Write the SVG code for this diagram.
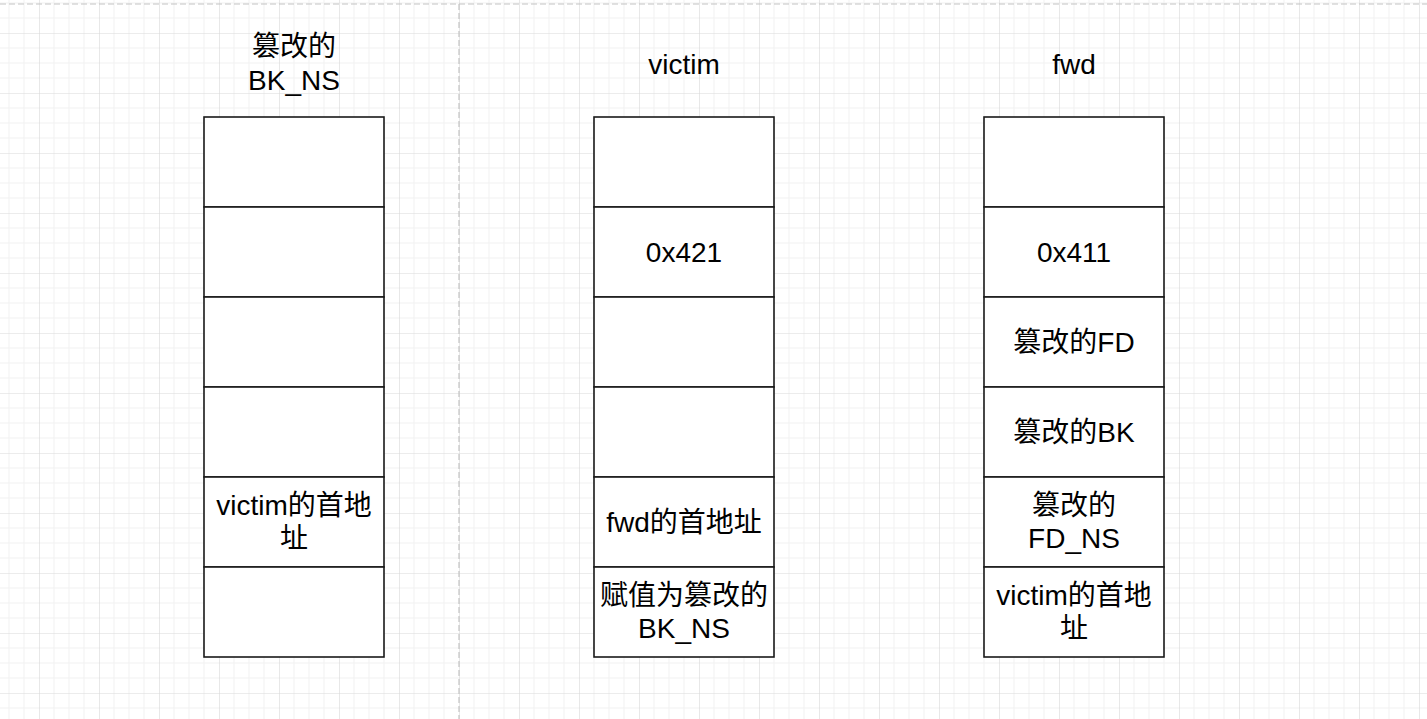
<svg xmlns="http://www.w3.org/2000/svg" width="1427" height="719" viewBox="0 0 1427 719">
<style>
  .cell { fill: #ffffff; stroke: #1a1a1a; stroke-width: 1.6; }
  .t { font-family: "Liberation Sans", Arial, "Noto Sans CJK SC", sans-serif; font-size: 28px; fill: #000000; text-anchor: middle; }
  .guide { stroke: #c4c4c4; stroke-width: 1.2; stroke-dasharray: 6 3; fill: none; }
</style>
<defs>
  <pattern id="grid" patternUnits="userSpaceOnUse" x="39" y="33" width="60" height="60">
    <path d="M15 0V60M30 0V60M45 0V60M0 15H60M0 30H60M0 45H60" stroke="#f1f1f1" stroke-width="1" fill="none"/>
    <path d="M0 0V60M0 0H60" stroke="#d9d9d9" stroke-width="1.2" fill="none"/>
  </pattern>
</defs>
<rect x="0" y="0" width="1427" height="719" fill="#ffffff"/>
<rect x="0" y="0" width="1427" height="719" fill="url(#grid)"/>
<g id="guides">
  <line class="guide" x1="0" y1="4" x2="1427" y2="4"/>
  <line class="guide" x1="459" y1="4" x2="459" y2="719"/>
</g>

<g id="label-bkns">
  <text class="t" x="294" y="56">篡改的</text>
  <text class="t" x="294" y="90">BK_NS</text>
</g>
<g id="label-victim">
  <text class="t" x="684" y="74">victim</text>
</g>
<g id="label-fwd">
  <text class="t" x="1074" y="74">fwd</text>
</g>

<g id="bkns-chunk">
  <rect class="cell" x="204" y="117" width="180" height="90"/>
  <rect class="cell" x="204" y="207" width="180" height="90"/>
  <rect class="cell" x="204" y="297" width="180" height="90"/>
  <rect class="cell" x="204" y="387" width="180" height="90"/>
  <rect class="cell" x="204" y="477" width="180" height="90"/>
  <text class="t" x="294" y="515">victim的首地</text>
  <text class="t" x="294" y="548">址</text>
  <rect class="cell" x="204" y="567" width="180" height="90"/>
</g>

<g id="victim-chunk">
  <rect class="cell" x="594" y="117" width="180" height="90"/>
  <rect class="cell" x="594" y="207" width="180" height="90"/>
  <text class="t" x="684" y="262">0x421</text>
  <rect class="cell" x="594" y="297" width="180" height="90"/>
  <rect class="cell" x="594" y="387" width="180" height="90"/>
  <rect class="cell" x="594" y="477" width="180" height="90"/>
  <text class="t" x="684" y="532">fwd的首地址</text>
  <rect class="cell" x="594" y="567" width="180" height="90"/>
  <text class="t" x="684" y="605">赋值为篡改的</text>
  <text class="t" x="684" y="638">BK_NS</text>
</g>

<g id="fwd-chunk">
  <rect class="cell" x="984" y="117" width="180" height="90"/>
  <rect class="cell" x="984" y="207" width="180" height="90"/>
  <text class="t" x="1074" y="262">0x411</text>
  <rect class="cell" x="984" y="297" width="180" height="90"/>
  <text class="t" x="1074" y="352">篡改的FD</text>
  <rect class="cell" x="984" y="387" width="180" height="90"/>
  <text class="t" x="1074" y="442">篡改的BK</text>
  <rect class="cell" x="984" y="477" width="180" height="90"/>
  <text class="t" x="1074" y="515">篡改的</text>
  <text class="t" x="1074" y="548">FD_NS</text>
  <rect class="cell" x="984" y="567" width="180" height="90"/>
  <text class="t" x="1074" y="605">victim的首地</text>
  <text class="t" x="1074" y="638">址</text>
</g>

<g id="connectors"></g>
</svg>
